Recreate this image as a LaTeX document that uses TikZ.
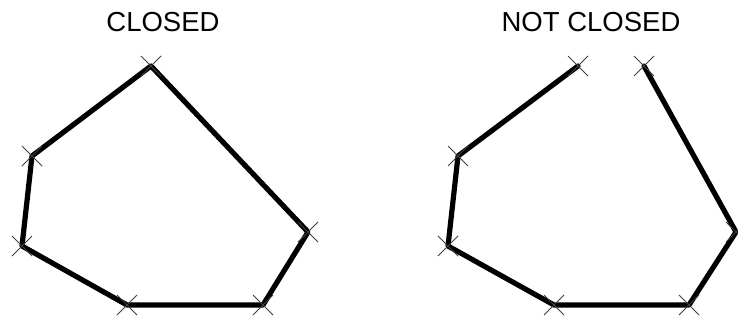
\documentclass[tikz,border=0pt]{standalone}
\usepackage{fontspec}
\setmainfont{Liberation Sans}
\usetikzlibrary{calc}
\begin{document}
\begin{tikzpicture}[x=1pt,y=-1pt,
  edge/.style={line width=5.2pt,line join=round,line cap=round,black},
  crossmark/.style={draw=black!75,line width=1pt},
  title/.style={font=\fontsize{27.5}{30}\selectfont,text=black}]
\useasboundingbox (0,0) rectangle (738,321);
\clip (0,0) rectangle (738,321);
% Left polygon
\coordinate (a1) at (151,66);
\coordinate (a2) at (32,156);
\coordinate (a3) at (22,246);
\coordinate (a4) at (127,305);
\coordinate (a5) at (263,305);
\coordinate (a6) at (308,232);
% Right polygon
\coordinate (b1) at (578,66);
\coordinate (b2) at (458,156);
\coordinate (b3) at (448,246);
\coordinate (b4) at (554,305);
\coordinate (b5) at (689,305);
\coordinate (b6) at (736,232);
\coordinate (b7) at (644,66);
\draw[edge] (a1) -- (a2) -- (a3) -- (a4) -- (a5) -- (a6) -- cycle;
\draw[edge] (b1) -- (b2) -- (b3) -- (b4) -- (b5) -- (b6) -- (b7);
\foreach \p in {a1,a2,a3,a4,a5,a6,b1,b2,b3,b4,b5,b6,b7}{
  \draw[crossmark] ($(\p)+(-10,-10)$) -- ($(\p)+(10,10)$);
  \draw[crossmark] ($(\p)+(-10,10)$) -- ($(\p)+(10,-10)$);
}
\node[title] (t1) at (163,22) {CLOSED};
\node[title] (t2) at (591,22) {NOT CLOSED};
\end{tikzpicture}
\end{document}
